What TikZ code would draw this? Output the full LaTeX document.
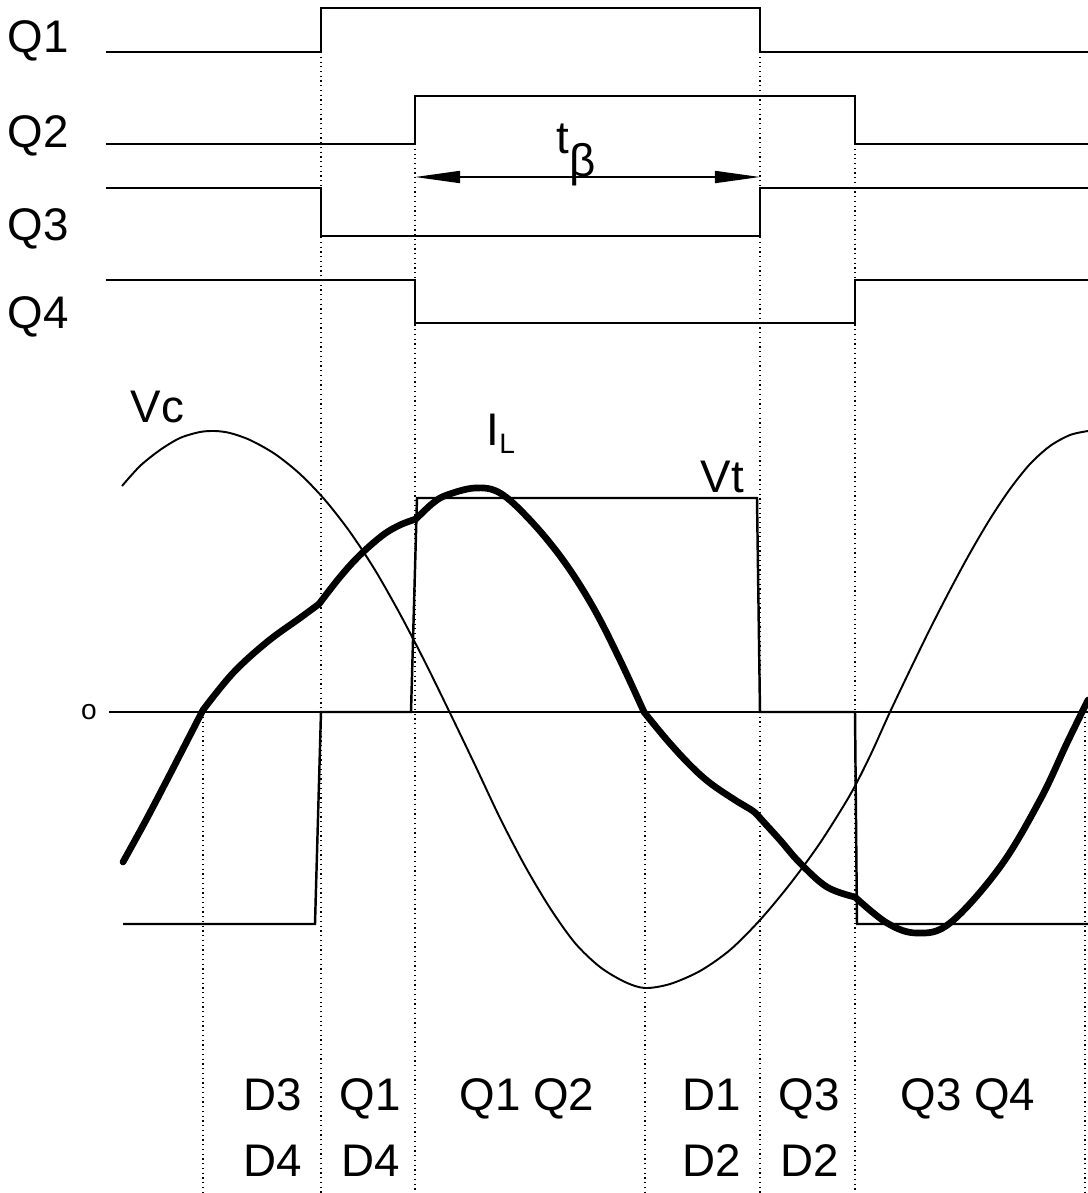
\documentclass[tikz,border=0pt]{standalone}
\usepackage{fontspec}
\setmainfont{Liberation Sans}
\usetikzlibrary{arrows.meta}
\tikzset{
  gate/.style={line width=0.8pt,line join=miter},
  vcap/.style={line width=0.55pt},
  cur/.style={line width=1.9pt,line cap=round,line join=round},
  vterm/.style={line width=0.7pt,line join=miter},
  axis/.style={line width=0.4pt},
  guide/.style={line width=0.35pt,densely dotted},
  lbl/.style={inner sep=0pt,anchor=base west,font=\fontsize{13}{15}\selectfont},
  dim/.style={{Triangle[length=4.5mm,width=1.2mm]}-{Triangle[length=4.5mm,width=1.2mm]},line width=0.5pt}
}

\begin{document}
\begin{tikzpicture}[x=0.01cm,y=-0.01cm]
\useasboundingbox (0,0) rectangle (1088,1193);
% switching instants (bottom ends of the guides)
\coordinate (b0) at (203,1193); \coordinate (b1) at (321,1193);
\coordinate (b2) at (415,1193); \coordinate (b3) at (645,1193);
\coordinate (b4) at (760,1193); \coordinate (b5) at (855,1193);
\coordinate (b6) at (1085,1193);
% dotted guides
\draw[guide] (203,712) -- (b0);
\draw[guide] (321,52) -- (b1);
\draw[guide] (415,144) -- (b2);
\draw[guide] (645,712) -- (b3);
\draw[guide] (760,52) -- (b4);
\draw[guide] (855,144) -- (b5);
\draw[guide] (1085,712) -- (b6);
% gate signals
\node[lbl] (q1) at (7,52) {Q1};
\node[lbl] (q2) at (7,147) {Q2};
\node[lbl] (q3) at (7,240) {Q3};
\node[lbl] (q4) at (7,328) {Q4};
\draw[gate] (106,52) -- (321,52) -- (321,8) -- (760,8) -- (760,52) -- (1088,52);
\draw[gate] (106,144) -- (415,144) -- (415,96) -- (855,96) -- (855,144) -- (1088,144);
\draw[gate] (106,188) -- (321,188) -- (321,236) -- (760,236) -- (760,188) -- (1088,188);
\draw[gate] (106,280) -- (415,280) -- (415,323) -- (855,323) -- (855,280) -- (1088,280);
% t_beta
\coordinate (tbl) at (415,177); \coordinate (tbr) at (760,177);
\draw[dim] (tbl) -- (tbr);
\node[lbl] (tb) at (556,153) {t\raisebox{-0.23cm}{β}};
% zero axis
\node[inner sep=0pt,font=\fontsize{8}{9}\selectfont] (zero) at (89,712) {o};
\draw[axis] (109,712) -- (1088,712);
% terminal voltage
\draw[vterm] (123,924) -- (315,924) -- (321,712) -- (411,712) -- (417,498) -- (757,498)
  -- (760,712) -- (855,712) -- (857,924) -- (1088,924);
% capacitor voltage
\draw[vcap] plot[smooth,tension=0.5] coordinates {(122,486) (140,466) (160,450) (180,438)
  (200,432) (215,431) (230,433) (250,440) (275,454) (300,474) (325,500) (350,532)
  (375,570) (400,614) (425,662) (450,713) (475,765) (500,818) (525,866) (550,908)
  (575,943) (600,967) (625,982) (645,988) (670,984) (700,971) (730,950) (760,920)
  (790,884) (820,843) (850,795) (870,756) (890,712) (910,670) (930,629) (950,590)
  (970,553) (990,519) (1010,489) (1030,464) (1050,446) (1070,435) (1088,431)};
% inductor current, kinks at the switching instants
\draw[cur] plot[smooth,tension=0.6] coordinates {(123,862) (145,822) (167,780) (185,745) (203,710)};
\draw[cur] plot[smooth,tension=0.6] coordinates {(203,710) (233,673) (267,642) (300,618) (319,604)};
\draw[cur] plot[smooth,tension=0.6] coordinates {(319,604) (340,577) (360,555) (383,535) (400,525) (416,519)};
\draw[cur] plot[smooth,tension=0.6] coordinates {(416,519) (433,503) (447,495) (475,488) (500,493)
  (530,520) (563,560) (593,607) (620,660) (644,712)};
\draw[cur] plot[smooth,tension=0.6] coordinates {(644,712) (667,740) (690,765) (710,783) (735,800) (753,811) (760,818)};
\draw[cur] plot[smooth,tension=0.6] coordinates {(760,818) (780,840) (800,863) (827,887) (855,897)};
\draw[cur] plot[smooth,tension=0.6] coordinates {(855,897) (887,923) (917,933) (950,923) (1000,867)
  (1040,800) (1067,743) (1088,700)};
% curve labels
\node[lbl] (vc) at (130,422) {Vc};
\node[lbl] (il) at (486,445) {I\raisebox{-0.08cm}{\fontsize{8}{9}\selectfont L}};
\node[lbl] (vt) at (700,492) {Vt};
% conducting devices
\node[lbl] (s1a) at (243,1110) {D3};
\node[lbl] (s1b) at (243,1176) {D4};
\node[lbl] (s2a) at (339,1110) {Q1};
\node[lbl] (s2b) at (341,1176) {D4};
\node[lbl] (s3a) at (459,1110) {Q1 Q2};
\node[lbl] (s4a) at (682,1110) {D1};
\node[lbl] (s4b) at (682,1176) {D2};
\node[lbl] (s5a) at (778,1110) {Q3};
\node[lbl] (s5b) at (780,1176) {D2};
\node[lbl] (s6a) at (900,1110) {Q3 Q4};
\end{tikzpicture}
\end{document}
